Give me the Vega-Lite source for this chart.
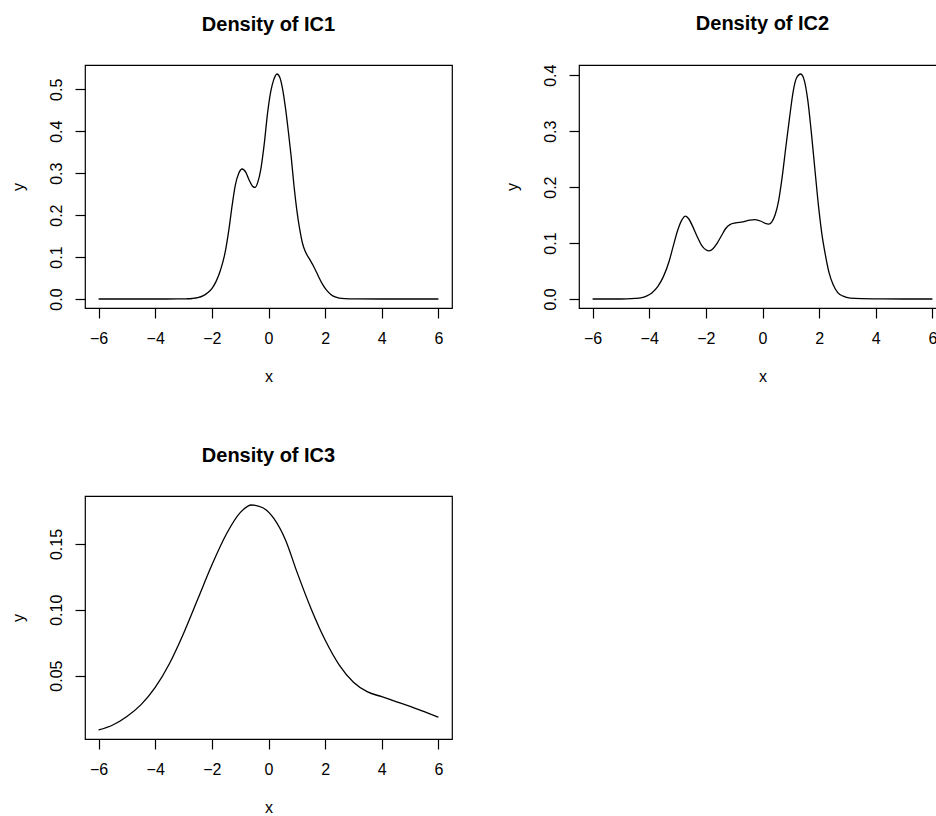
{
  "$schema": "https://vega.github.io/schema/vega-lite/v6.json",
  "padding": {"left": 9, "top": 13, "right": 0, "bottom": 0},
  "background": "white",
  "datasets": {
    "ic1": [
      {"x": -6, "y": 0}, {"x": -5, "y": 0}, {"x": -4, "y": 0}, {"x": -3.2, "y": 0.0001},
      {"x": -2.9, "y": 0.0005}, {"x": -2.7, "y": 0.0012}, {"x": -2.5, "y": 0.003}, {"x": -2.3, "y": 0.008},
      {"x": -2.15, "y": 0.015}, {"x": -2.0, "y": 0.025}, {"x": -1.85, "y": 0.042}, {"x": -1.7, "y": 0.068},
      {"x": -1.55, "y": 0.105}, {"x": -1.4, "y": 0.165}, {"x": -1.28, "y": 0.225}, {"x": -1.17, "y": 0.272},
      {"x": -1.05, "y": 0.3}, {"x": -0.93, "y": 0.31}, {"x": -0.8, "y": 0.302}, {"x": -0.68, "y": 0.283},
      {"x": -0.55, "y": 0.268}, {"x": -0.47, "y": 0.266}, {"x": -0.38, "y": 0.278}, {"x": -0.28, "y": 0.306},
      {"x": -0.15, "y": 0.37}, {"x": -0.03, "y": 0.445}, {"x": 0.08, "y": 0.495}, {"x": 0.18, "y": 0.522},
      {"x": 0.3, "y": 0.5365}, {"x": 0.4, "y": 0.528}, {"x": 0.5, "y": 0.5}, {"x": 0.6, "y": 0.455},
      {"x": 0.7, "y": 0.4}, {"x": 0.8, "y": 0.34}, {"x": 0.9, "y": 0.27}, {"x": 1.0, "y": 0.212},
      {"x": 1.1, "y": 0.167}, {"x": 1.2, "y": 0.133}, {"x": 1.3, "y": 0.113}, {"x": 1.45, "y": 0.095},
      {"x": 1.6, "y": 0.077}, {"x": 1.75, "y": 0.056}, {"x": 1.9, "y": 0.036}, {"x": 2.05, "y": 0.021},
      {"x": 2.2, "y": 0.011}, {"x": 2.35, "y": 0.005}, {"x": 2.5, "y": 0.0022}, {"x": 2.7, "y": 0.0007},
      {"x": 3.0, "y": 0.0001}, {"x": 4, "y": 0}, {"x": 5, "y": 0}, {"x": 6, "y": 0}
    ],
    "ic2": [
      {"x": -6, "y": 0}, {"x": -5, "y": 0}, {"x": -4.8, "y": 0.0002}, {"x": -4.5, "y": 0.001},
      {"x": -4.3, "y": 0.002}, {"x": -4.1, "y": 0.005}, {"x": -3.9, "y": 0.011}, {"x": -3.7, "y": 0.022},
      {"x": -3.5, "y": 0.04}, {"x": -3.3, "y": 0.067}, {"x": -3.15, "y": 0.095}, {"x": -3.0, "y": 0.122},
      {"x": -2.85, "y": 0.141}, {"x": -2.72, "y": 0.148}, {"x": -2.6, "y": 0.143}, {"x": -2.45, "y": 0.128},
      {"x": -2.3, "y": 0.111}, {"x": -2.15, "y": 0.096}, {"x": -2.0, "y": 0.088}, {"x": -1.88, "y": 0.086},
      {"x": -1.75, "y": 0.09}, {"x": -1.6, "y": 0.1}, {"x": -1.45, "y": 0.113}, {"x": -1.3, "y": 0.126},
      {"x": -1.15, "y": 0.133}, {"x": -0.95, "y": 0.136}, {"x": -0.7, "y": 0.138}, {"x": -0.45, "y": 0.141},
      {"x": -0.27, "y": 0.142}, {"x": -0.05, "y": 0.139}, {"x": 0.1, "y": 0.135}, {"x": 0.22, "y": 0.134},
      {"x": 0.33, "y": 0.138}, {"x": 0.45, "y": 0.151}, {"x": 0.57, "y": 0.176}, {"x": 0.7, "y": 0.22},
      {"x": 0.82, "y": 0.27}, {"x": 0.95, "y": 0.322}, {"x": 1.08, "y": 0.37}, {"x": 1.2, "y": 0.395},
      {"x": 1.35, "y": 0.4022}, {"x": 1.48, "y": 0.39}, {"x": 1.6, "y": 0.355}, {"x": 1.72, "y": 0.3},
      {"x": 1.85, "y": 0.232}, {"x": 1.98, "y": 0.165}, {"x": 2.1, "y": 0.115}, {"x": 2.22, "y": 0.079},
      {"x": 2.35, "y": 0.047}, {"x": 2.5, "y": 0.025}, {"x": 2.65, "y": 0.012}, {"x": 2.85, "y": 0.005},
      {"x": 3.1, "y": 0.0015}, {"x": 3.5, "y": 0.0005}, {"x": 4, "y": 0.0002}, {"x": 5, "y": 0}, {"x": 6, "y": 0}
    ],
    "ic3": [
      {"x": -6, "y": 0.0087}, {"x": -5.5, "y": 0.0125}, {"x": -5.0, "y": 0.019}, {"x": -4.5, "y": 0.028},
      {"x": -4.0, "y": 0.041}, {"x": -3.5, "y": 0.059}, {"x": -3.0, "y": 0.082}, {"x": -2.5, "y": 0.108},
      {"x": -2.0, "y": 0.134}, {"x": -1.5, "y": 0.157}, {"x": -1.0, "y": 0.1738}, {"x": -0.6, "y": 0.1796},
      {"x": -0.2, "y": 0.1775}, {"x": 0.2, "y": 0.169}, {"x": 0.6, "y": 0.153}, {"x": 1.0, "y": 0.129},
      {"x": 1.5, "y": 0.101}, {"x": 2.0, "y": 0.077}, {"x": 2.5, "y": 0.058}, {"x": 3.0, "y": 0.045},
      {"x": 3.5, "y": 0.0376}, {"x": 4.0, "y": 0.034}, {"x": 4.5, "y": 0.0303}, {"x": 5.0, "y": 0.0267},
      {"x": 5.5, "y": 0.0226}, {"x": 6.0, "y": 0.0184}
    ]
  },
  "columns": 2,
  "spacing": {"column": 127, "row": 188},
  "bounds": "flush",
  "concat": [
    {
      "width": 367,
      "height": 243,
      "title": {"text": "Density of IC1"},
      "data": {"name": "ic1"},
      "mark": {"type": "line", "color": "black", "strokeWidth": 1.3, "interpolate": "monotone"},
      "encoding": {
        "x": {"field": "x", "type": "quantitative", "title": "x",
          "scale": {"domain": [-6.48, 6.48], "nice": false, "zero": false},
          "axis": {"values": [-6, -4, -2, 0, 2, 4, 6], "format": "d"}},
        "y": {"field": "y", "type": "quantitative", "title": "y",
          "scale": {"domain": [-0.02146, 0.55796], "nice": false, "zero": false},
          "axis": {"values": [0, 0.1, 0.2, 0.3, 0.4, 0.5], "format": ".1f"}}
      }
    },
    {
      "width": 367,
      "height": 243,
      "title": {"text": "Density of IC2"},
      "data": {"name": "ic2"},
      "mark": {"type": "line", "color": "black", "strokeWidth": 1.3, "interpolate": "monotone"},
      "encoding": {
        "x": {"field": "x", "type": "quantitative", "title": "x",
          "scale": {"domain": [-6.48, 6.48], "nice": false, "zero": false},
          "axis": {"values": [-6, -4, -2, 0, 2, 4, 6], "format": "d"}},
        "y": {"field": "y", "type": "quantitative", "title": "y",
          "scale": {"domain": [-0.01609, 0.41829], "nice": false, "zero": false},
          "axis": {"values": [0, 0.1, 0.2, 0.3, 0.4], "format": ".1f"}}
      }
    },
    {
      "width": 367,
      "height": 243,
      "title": {"text": "Density of IC3"},
      "data": {"name": "ic3"},
      "mark": {"type": "line", "color": "black", "strokeWidth": 1.3, "interpolate": "monotone"},
      "encoding": {
        "x": {"field": "x", "type": "quantitative", "title": "x",
          "scale": {"domain": [-6.48, 6.48], "nice": false, "zero": false},
          "axis": {"values": [-6, -4, -2, 0, 2, 4, 6], "format": "d"}},
        "y": {"field": "y", "type": "quantitative", "title": "y",
          "scale": {"domain": [0.00186, 0.18644], "nice": false, "zero": false},
          "axis": {"values": [0.05, 0.1, 0.15], "format": ".2f"}}
      }
    }
  ],
  "config": {
    "font": "Liberation Sans",
    "view": {"stroke": "black", "strokeWidth": 1.2},
    "title": {
      "font": "Liberation Sans", "fontSize": 20, "fontWeight": "bold", "color": "black",
      "anchor": "middle", "baseline": "alphabetic", "offset": 30, "frame": "group"
    },
    "axis": {
      "domain": false, "grid": false,
      "ticks": true, "tickColor": "black", "tickSize": 10, "tickWidth": 1.2,
      "labelFont": "Liberation Sans", "labelFontSize": 16, "labelColor": "black",
      "labelOverlap": false, "labelFlush": false,
      "titleFont": "Liberation Sans", "titleFontSize": 16, "titleFontWeight": "normal", "titleColor": "black"
    },
    "axisX": {"labelPadding": 12, "titlePadding": 22},
    "axisY": {"labelAngle": -90, "labelAlign": "center", "labelBaseline": "alphabetic", "labelPadding": 14, "titlePadding": 22}
  }
}
